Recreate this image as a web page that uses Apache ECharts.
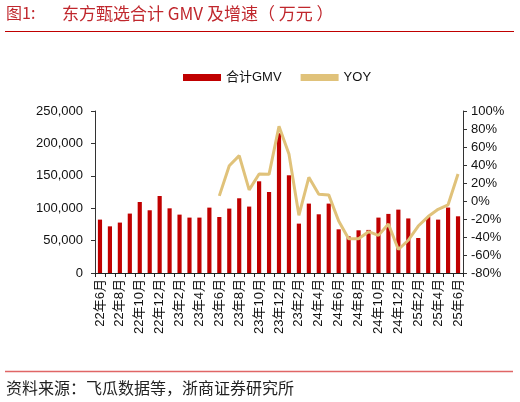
<!DOCTYPE html>
<html>
<head>
<meta charset="utf-8">
<script src="https://cdn.jsdelivr.net/npm/echarts@6/dist/echarts.min.js"></script>
<style>
html,body{margin:0;padding:0;background:#fff;}
#c{width:520px;height:402px;}
</style>
</head>
<body>
<div id="c"></div>
<script>
const categories = [
  '22年6月','22年7月','22年8月','22年9月','22年10月','22年11月','22年12月',
  '23年1月','23年2月','23年3月','23年4月','23年5月','23年6月','23年7月','23年8月','23年9月','23年10月','23年11月','23年12月',
  '24年1月','23年2月','24年3月','24年4月','24年5月','24年6月','24年7月','24年8月','24年9月','24年10月','24年11月','24年12月',
  '25年1月','25年2月','25年3月','25年4月','25年5月','25年6月'
];
const gmv = [
  82400, 72000, 77800, 91700, 109600, 96800, 118800,
  99800, 90100, 85500, 85500, 100900, 86400, 99400, 115300, 102500, 141500, 125000, 215600,
  150800, 76200, 107100, 90600, 107100, 67400, 56600, 65900, 66500, 85500, 91200, 97800,
  84200, 54000, 86400, 82400, 101000, 87500
];
const yoy = [
  null, null, null, null, null, null, null,
  null, null, null, null, null, 5.7, 39.2, 50.4, 12.4, 30.0, 29.6, 83.0,
  52.3, -15.9, 26.3, 7.6, 6.8, -22.2, -41.9, -41.9, -34.1, -38.2, -25.5, -53.9,
  -43.6, -27.8, -17.3, -9.2, -4.2, 30.0
];
const leftTicks = { min: 0, max: 250000, interval: 50000 };
const rightTicks = { min: -80, max: 100, interval: 20 };

const chart = echarts.init(document.getElementById('c'));
const sans = 'Liberation Sans, Arial, Noto Sans CJK SC, sans-serif';
const cjk = 'Noto Sans CJK SC, sans-serif';
chart.setOption({
  animation: false,
  backgroundColor: '#fff',
  grid: { left: 95, right: 57, top: 111, bottom: 129 },
  legend: {
    top: 66, left: 178, itemGap: 19,
    textStyle: { fontFamily: sans, fontSize: 13, color: '#111' },
    data: [
      { name: '合计GMV', icon: 'rect', itemStyle: { color: '#c00000' } },
      { name: 'YOY', icon: 'rect' }
    ],
    itemWidth: 38, itemHeight: 7
  },
  xAxis: {
    type: 'category', data: categories,
    axisLine: { lineStyle: { color: '#222', width: 1 } },
    axisTick: { show: true, interval: 0, length: 4, lineStyle: { color: '#222' } },
    axisLabel: { interval: 1, rotate: 90, fontFamily: sans, fontSize: 13, color: '#111', margin: 6 }
  },
  yAxis: [
    {
      type: 'value', min: leftTicks.min, max: leftTicks.max, interval: leftTicks.interval,
      splitLine: { show: false },
      axisLine: { show: true, lineStyle: { color: '#333' } },
      axisTick: { show: true, length: 4, lineStyle: { color: '#333' } },
      axisLabel: {
        fontFamily: sans, fontSize: 13, color: '#111', margin: 12,
        formatter: v => v.toLocaleString('en-US')
      }
    },
    {
      type: 'value', min: rightTicks.min, max: rightTicks.max, interval: rightTicks.interval,
      position: 'right',
      splitLine: { show: false },
      axisLine: { show: true, lineStyle: { color: '#333' } },
      axisTick: { show: true, length: 4, lineStyle: { color: '#333' } },
      axisLabel: { fontFamily: sans, fontSize: 13, color: '#111', margin: 8, formatter: '{value}%' }
    }
  ],
  series: [
    {
      name: '合计GMV', type: 'bar', data: gmv, barWidth: '42%',
      itemStyle: { color: '#c00000' }
    },
    {
      name: 'YOY', type: 'line', yAxisIndex: 1, data: yoy,
      symbol: 'none', connectNulls: false,
      lineStyle: { color: '#e0c27a', width: 3 },
      itemStyle: { color: '#e0c27a' }
    }
  ],
  graphic: [
    { type: 'text', left: 6, top: 5, style: { text: '图1:', fontFamily: cjk, fontSize: 16, fill: '#c0272d' } },
    { type: 'text', left: 62, top: 5, style: { text: '东方甄选合计 GMV 及增速（ 万元 ）', fontFamily: cjk, fontSize: 17, fill: '#c0272d' } },
    { type: 'line', shape: { x1: 5, y1: 31.5, x2: 514, y2: 31.5 }, style: { stroke: '#c00000', lineWidth: 1 } },
    { type: 'line', shape: { x1: 5, y1: 371.5, x2: 513, y2: 371.5 }, style: { stroke: '#e06666', lineWidth: 1.5 } },
    { type: 'text', left: 6, top: 380, style: { text: '资料来源：飞瓜数据等，浙商证券研究所', fontFamily: cjk, fontSize: 16, fill: '#222' } }
  ]
});
</script>
</body>
</html>
